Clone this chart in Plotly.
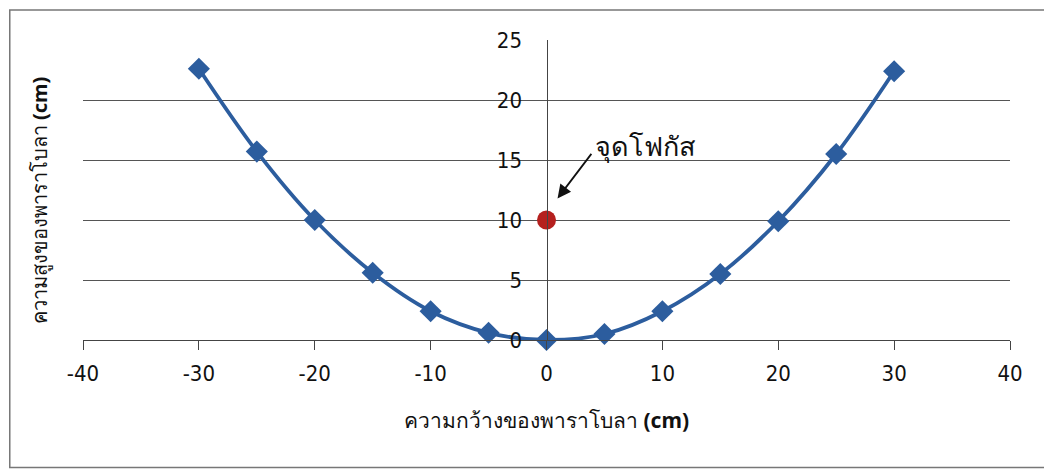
import plotly.graph_objects as go

x_vals = [-30, -25, -20, -15, -10, -5, 0, 5, 10, 15, 20, 25, 30]
y_vals = [22.6, 15.7, 10.0, 5.6, 2.4, 0.6, 0.0, 0.5, 2.4, 5.5, 9.9, 15.5, 22.4]
focus_x = [0]
focus_y = [10]
focus_label = "จุดโฟกัส"
x_title = "ความกว้างของพาราโบลา <b>(cm)</b>"
y_title = "ความสูงของพาราโบลา <b>(cm)</b>"
x_ticks = [-40, -30, -20, -10, 0, 10, 20, 30, 40]
x_ticktext = ["-40", "-30", "-20", "-10", "0", "10", "20", "30", "40"]
y_ticks = [0, 5, 10, 15, 20, 25]

FONT = "DejaVu Sans Condensed, Liberation Sans Narrow, Roboto, sans-serif"
TFONT = "Noto Sans, sans-serif"
BLUE = "#2c5d9e"

fig = go.Figure()
fig.add_trace(go.Scatter(
    x=x_vals, y=y_vals, mode="lines+markers",
    line=dict(color=BLUE, width=3.8, shape="spline"),
    marker=dict(symbol="diamond", size=17, color=BLUE),
    showlegend=False, cliponaxis=False,
))
fig.add_trace(go.Scatter(
    x=focus_x, y=focus_y, mode="markers",
    marker=dict(symbol="circle", size=19, color="#b5201e"),
    showlegend=False, cliponaxis=False,
))

# arrow (tip near the focus point, tail below-left of the label)
fig.add_annotation(
    x=0.95, y=11.8, xref="x", yref="y", text="",
    showarrow=True, arrowhead=2, arrowsize=1.5, arrowwidth=1.8, arrowcolor="#111",
    ax=35, ay=-46,
)
fig.add_annotation(
    x=4.0, y=16.2, xref="x", yref="y", text=focus_label, showarrow=False,
    xanchor="left", yanchor="middle",
    font=dict(family=TFONT, size=27, color="#111"),
)
fig.add_annotation(
    x=-0.046, y=0.467, xref="paper", yref="paper", text=y_title, textangle=-90,
    xanchor="center", yanchor="middle",
    showarrow=False, font=dict(family=TFONT, size=20, color="#111"),
)

# outer frame
fig.add_shape(type="rect", xref="paper", yref="paper",
              x0=-0.079, x1=1.06, y0=-0.425, y1=1.1,
              line=dict(color="#777", width=1.5), layer="below")

fig.update_layout(
    width=1044, height=465,
    margin=dict(l=75, r=42, t=32, b=133),
    paper_bgcolor="white", plot_bgcolor="white",
    font=dict(family=FONT, size=19, color="#111"),
    xaxis=dict(
        range=[-40, 40], tickvals=x_ticks, ticktext=x_ticktext,
        showgrid=False, zeroline=False,
        showline=True, linecolor="#444", linewidth=1.2,
        ticks="outside", ticklen=9, tickcolor="#444", tickwidth=1.2,
        ticklabelstandoff=4,
        tickfont=dict(family=FONT, size=22, color="#111"),
        title=dict(text=x_title, font=dict(family=TFONT, size=21, color="#111"), standoff=28),
    ),
    yaxis=dict(
        range=[0, 25], tickvals=y_ticks, anchor="free", position=0.5,
        showgrid=True, gridcolor="#555", gridwidth=1.1, zeroline=False,
        showline=True, linecolor="#444", linewidth=1.2,
        ticks="", ticklabelstandoff=20,
        tickfont=dict(family=FONT, size=22, color="#111"),
    ),
)

fig.write_html("out.html")
